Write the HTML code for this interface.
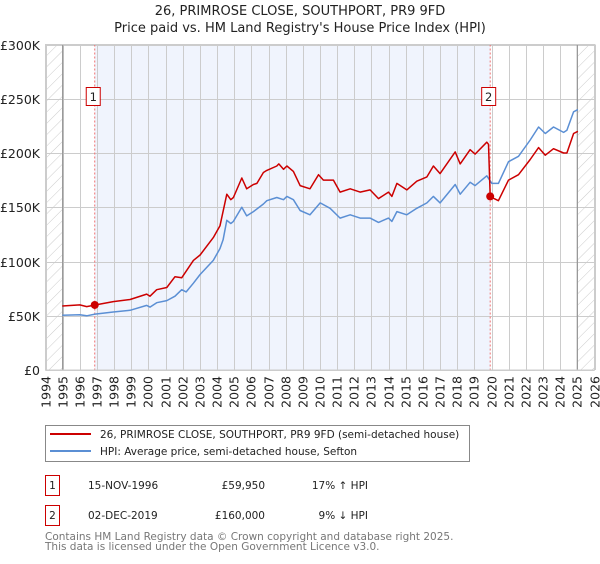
<!DOCTYPE html>
<html><head><meta charset="utf-8"><style>
body{margin:0;background:#fff;font-family:"DejaVu Sans","Liberation Sans",sans-serif;}
svg text{font-family:"DejaVu Sans","Liberation Sans",sans-serif;}
</style></head><body>
<svg id="c" width="600" height="560" xmlns="http://www.w3.org/2000/svg">
<defs><pattern id="hatch" width="8" height="8" patternUnits="userSpaceOnUse" patternTransform="rotate(45)"><line x1="0" y1="0" x2="0" y2="8" stroke="#ccc" stroke-width="1"/></pattern></defs>
<text x="300" y="15" text-anchor="middle" font-size="13" fill="#222">26, PRIMROSE CLOSE, SOUTHPORT, PR9 9FD</text>
<text x="300" y="32" text-anchor="middle" font-size="13" fill="#222">Price paid vs. HM Land Registry's House Price Index (HPI)</text>
<g id="plot"></g>
<g>
<rect x="45.5" y="425.5" width="424" height="36" fill="#fff" stroke="#888"/>
<line x1="50" y1="434" x2="91" y2="434" stroke="#cc0000" stroke-width="2"/>
<text x="100" y="438" font-size="10.5" fill="#222">26, PRIMROSE CLOSE, SOUTHPORT, PR9 9FD (semi-detached house)</text>
<line x1="50" y1="451" x2="91" y2="451" stroke="#5b8fd4" stroke-width="2"/>
<text x="100" y="455" font-size="10.5" fill="#222">HPI: Average price, semi-detached house, Sefton</text>
</g>
<g font-size="10.5" fill="#222">
<rect x="45.5" y="475.5" width="14" height="20" fill="#fff" stroke="#cc0000"/>
<text x="52.5" y="489" text-anchor="middle">1</text>
<text x="88" y="489">15-NOV-1996</text>
<text x="265" y="489" text-anchor="end">£59,950</text>
<text x="368" y="489" text-anchor="end">17% ↑ HPI</text>
<rect x="45.5" y="505.5" width="14" height="20" fill="#fff" stroke="#cc0000"/>
<text x="52.5" y="519" text-anchor="middle">2</text>
<text x="88" y="519">02-DEC-2019</text>
<text x="265" y="519" text-anchor="end">£160,000</text>
<text x="368" y="519" text-anchor="end">9% ↓ HPI</text>
</g>
<text x="45" y="540" font-size="10.5" fill="#777">Contains HM Land Registry data © Crown copyright and database right 2025.</text>
<text x="45" y="550" font-size="10.5" fill="#777">This data is licensed under the Open Government Licence v3.0.</text>
</svg>
<script>
const yTicks=[0,50000,100000,150000,200000,250000,300000];
const yTickLabels=["£0","£50K","£100K","£150K","£200K","£250K","£300K"];
const xYears=[1994,1995,1996,1997,1998,1999,2000,2001,2002,2003,2004,2005,2006,2007,2008,2009,2010,2011,2012,2013,2014,2015,2016,2017,2018,2019,2020,2021,2022,2023,2024,2025,2026];
const saleYears=[1996.87,2019.92];
const salePrices=[59950,160000];
const hpiYears=[1994.98,1996.0,1996.4,1996.89,1997.95,1998.93,1999.9,2000.09,2000.48,2001.07,2001.55,2001.94,2002.2,2002.62,2003.01,2003.78,2004.17,2004.35,2004.57,2004.8,2004.95,2005.44,2005.73,2006.12,2006.7,2006.9,2007.48,2007.87,2008.07,2008.45,2008.84,2009.42,2010.01,2010.59,2011.17,2011.76,2012.34,2012.92,2013.41,2013.99,2014.19,2014.48,2015.06,2015.64,2016.23,2016.61,2017.0,2017.88,2018.17,2018.75,2019.04,2019.72,2020.02,2020.4,2020.99,2021.57,2022.25,2022.74,2023.13,2023.61,2024.2,2024.39,2024.78,2025.03];
const hpiValues=[50.5,51,50,51.5,53.5,55,59.5,58,62,64,68,74,72,80,88,101,112,120,138,135,137,150,142,146,153,156,159,157,160,157,147,143,154,149,140,143,140,140,136,140,137,146,143,149,154,160,154,171,162,173,170,179,172,172,192,197,212,224,218,224,219,221,238,240];
const propYears=[1994.98,1996.0,1996.4,1996.89,1997.95,1998.93,1999.9,2000.09,2000.48,2001.07,2001.55,2001.94,2002.62,2003.01,2003.78,2004.17,2004.57,2004.8,2004.95,2005.44,2005.73,2006.12,2006.32,2006.7,2006.9,2007.48,2007.6,2007.87,2008.07,2008.45,2008.84,2009.42,2009.91,2010.2,2010.78,2011.17,2011.76,2012.34,2012.92,2013.41,2013.99,2014.19,2014.48,2015.06,2015.64,2016.23,2016.61,2017.0,2017.88,2018.17,2018.75,2019.04,2019.72,2019.82,2019.92,2020.15,2020.4,2020.99,2021.57,2022.25,2022.74,2023.13,2023.61,2024.2,2024.39,2024.78,2025.03];
const propValues=[59,60,58.4,59.95,63,65,70,68,74,76,86,85,101,106,122,133,162,157,159,177,167,171,172,182,184,188,190,185,188,183,170,167,180,175,175,164,167,164,166,158,164,160,172,166,174,178,188,181,201,190,203,199,210,208,160,158,156,175,180,194,205,198,204,200,200,218,220];

const NS="http://www.w3.org/2000/svg";
const L=45.5,R=594.5,T=44.5,B=370;
const xS=y=>L+(y-1994)/32*(R-L);
const yS=v=>B-v/300000*(B-T);
const g=document.getElementById('plot');
function mk(tag,at,parent){const e=document.createElementNS(NS,tag);for(const k in at)e.setAttribute(k,at[k]);(parent||g).appendChild(e);return e;}
let e;
e=mk('rect',{x:xS(1996.87),y:T,width:xS(2019.92)-xS(1996.87),height:B-T,fill:'#f0f4fd'});


e=mk('rect',{x:L,y:T,width:xS(1995)-L,height:B-T,fill:'url(#hatch)'});


e=mk('rect',{x:xS(2025),y:T,width:R-xS(2025),height:B-T,fill:'url(#hatch)'});


xYears.forEach((yr,i)=>{
 const x=Math.round(xS(yr))+0.5;
 e=mk('line',{x1:x,x2:x,y1:T,y2:B,stroke:'#ccc'});
 
 
 e=mk('text',{x:0,y:0,transform:`translate(${x+4},376) rotate(-90)`,'text-anchor':'end','font-size':'12.5',fill:'#222'});
 e.textContent=yr;
 
 
});
yTicks.forEach((v,i)=>{
 const y=Math.round(yS(v))+0.5;
 e=mk('line',{x1:L,x2:R,y1:y,y2:y,stroke:'#ccc'});
 
 
 e=mk('text',{x:40,y:y+4.5,'text-anchor':'end','font-size':'12.5',fill:'#222'});
 e.textContent=yTickLabels[i];
 
 
});
[1995,2025].forEach(yr=>{
 e=mk('line',{x1:xS(yr),x2:xS(yr),y1:T,y2:B,stroke:'#999','stroke-width':1.3});
 
 
});
saleYears.forEach((yr,i)=>{
 e=mk('line',{x1:xS(yr),x2:xS(yr),y1:T,y2:B,stroke:'#f07070','stroke-dasharray':'2,2'});
 
 
});
function path(xs,vs,color,name){
 const d=xs.map((x,i)=>(i?'L':'M')+xS(x).toFixed(1)+','+yS(vs[i]*1000).toFixed(1)).join('');
 const p=mk('path',{d,fill:'none',stroke:color,'stroke-width':1.5,'stroke-linejoin':'round'});
 
 
}
path(hpiYears,hpiValues,'#5b8fd4','hpi-line');
path(propYears,propValues,'#cc0000','property-price-line');
saleYears.forEach((yr,i)=>{
 e=mk('circle',{cx:xS(yr),cy:yS(salePrices[i]),r:4,fill:'#cc0000'});
 
 
 const bx=xS(yr)-8;
 e=mk('rect',{x:bx-0.5,y:87.5,width:14,height:18,fill:'#fff',stroke:'#cc0000'});
 
 
 e=mk('text',{x:bx+6.5,y:101,'text-anchor':'middle','font-size':'11.5',fill:'#222'});
 e.textContent=String(i+1);
 
 
});
mk('rect',{x:L,y:T,width:R-L,height:B-T,fill:'none',stroke:'#ccc'});
</script>
</body></html>
